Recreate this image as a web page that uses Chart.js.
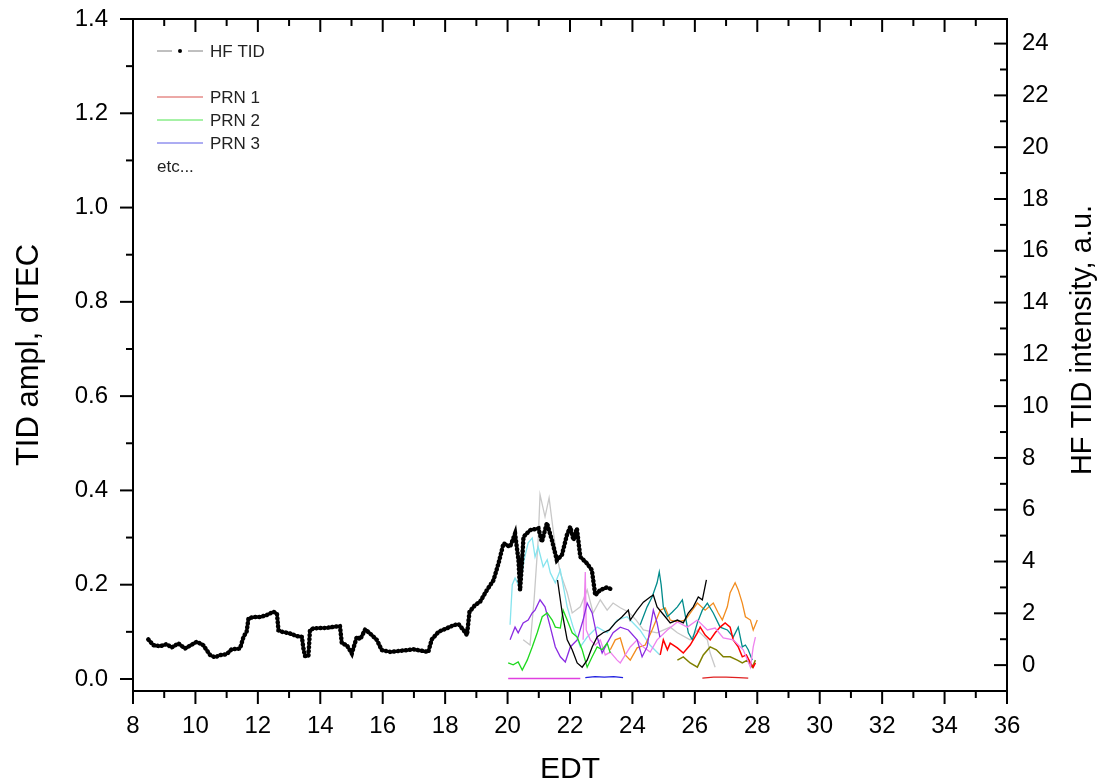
<!DOCTYPE html>
<html>
<head>
<meta charset="utf-8">
<script src="https://cdn.jsdelivr.net/npm/chart.js@4.4.0/dist/chart.umd.min.js"></script>
<style>
  html, body { margin: 0; padding: 0; background: #fff; }
  #wrap { width: 1099px; height: 784px; }
</style>
</head>
<body>
<div id="wrap"><canvas id="c" width="1099" height="784"></canvas></div>
<script>
// Axes
const xTicks = [8, 10, 12, 14, 16, 18, 20, 22, 24, 26, 28, 30, 32, 34, 36];
const leftTicks = [0, 0.2, 0.4, 0.6, 0.8, 1.0, 1.2, 1.4];
const rightTicks = [0, 2, 4, 6, 8, 10, 12, 14, 16, 18, 20, 22, 24];

// HF TID (axe de droite, u.a.)
const hfT = [8.49, 8.65, 8.87, 9.08, 9.24, 9.45, 9.67, 10.04, 10.25, 10.47, 10.63, 10.79, 11.0, 11.16, 11.43, 11.54, 11.64, 11.70, 11.86, 12.07, 12.28, 12.50, 12.61, 12.66, 12.77, 13.03, 13.25, 13.41, 13.46, 13.51, 13.62, 13.67, 13.78, 14.21, 14.63, 14.69, 14.85, 15.01, 15.17, 15.28, 15.44, 15.65, 15.81, 15.97, 16.24, 16.56, 16.98, 17.46, 17.57, 17.79, 18.05, 18.27, 18.43, 18.59, 18.70, 18.78, 18.96, 19.12, 19.34, 19.55, 19.71, 19.87, 20.08, 20.24, 20.35, 20.40, 20.46, 20.51, 20.72, 20.99, 21.10, 21.26, 21.42, 21.58, 21.74, 21.90, 22.01, 22.11, 22.22, 22.33, 22.54, 22.70, 22.81, 22.97, 23.18, 23.39];
const hfV = [0.99, 0.77, 0.73, 0.81, 0.68, 0.84, 0.64, 0.90, 0.77, 0.39, 0.30, 0.39, 0.42, 0.61, 0.64, 1.09, 1.29, 1.80, 1.86, 1.86, 1.93, 2.06, 2.00, 1.35, 1.29, 1.22, 1.12, 1.09, 0.64, 0.35, 0.35, 1.35, 1.42, 1.44, 1.51, 0.84, 0.77, 0.45, 1.09, 1.00, 1.38, 1.16, 0.97, 0.58, 0.51, 0.55, 0.61, 0.51, 0.99, 1.29, 1.42, 1.54, 1.58, 1.35, 1.16, 2.06, 2.32, 2.45, 2.90, 3.28, 3.93, 4.70, 4.57, 5.08, 4.05, 2.90, 3.93, 4.95, 5.21, 5.28, 4.76, 5.49, 4.83, 4.05, 4.25, 5.02, 5.34, 4.83, 5.28, 4.18, 3.93, 3.67, 2.70, 2.90, 3.00, 2.90];

// PRN (axe de gauche, dTEC)
const grayT = [20.50, 20.72, 20.85, 20.98, 21.04, 21.20, 21.33, 21.53, 21.69, 21.91, 22.07, 22.33, 22.55, 22.74, 22.97, 23.19, 23.38, 23.61, 23.87, 24.12, 24.35, 24.79, 25.21, 25.44, 25.85, 26.08, 26.40, 26.49, 26.65];
const grayV = [0.083, 0.072, 0.168, 0.295, 0.391, 0.344, 0.384, 0.280, 0.225, 0.183, 0.140, 0.153, 0.189, 0.140, 0.168, 0.146, 0.161, 0.151, 0.142, 0.125, 0.104, 0.098, 0.110, 0.098, 0.083, 0.104, 0.083, 0.055, 0.025];

const cyanT = [20.08, 20.15, 20.24, 20.40, 20.53, 20.66, 20.79, 20.88, 20.98, 21.14, 21.27, 21.37, 21.53, 21.69, 21.91, 22.10, 22.33, 22.55, 22.87, 23.19, 23.51, 23.83, 24.24, 24.56, 24.88];
const cyanV = [0.115, 0.200, 0.214, 0.193, 0.253, 0.289, 0.299, 0.259, 0.280, 0.238, 0.253, 0.225, 0.204, 0.231, 0.153, 0.110, 0.068, 0.089, 0.110, 0.098, 0.125, 0.132, 0.104, 0.072, 0.051];

const purpleT = [20.08, 20.24, 20.34, 20.50, 20.66, 20.79, 20.88, 21.04, 21.20, 21.37, 21.53, 21.69, 21.85, 22.01, 22.23, 22.42, 22.55, 22.71, 22.87, 23.03, 23.19, 23.38, 23.61, 23.87, 24.15, 24.31, 24.47, 24.57, 24.67, 24.79, 24.88];
const purpleV = [0.083, 0.110, 0.098, 0.119, 0.125, 0.140, 0.146, 0.168, 0.153, 0.110, 0.068, 0.047, 0.036, 0.068, 0.083, 0.125, 0.161, 0.140, 0.089, 0.055, 0.076, 0.098, 0.110, 0.104, 0.083, 0.047, 0.068, 0.110, 0.146, 0.119, 0.089];

const greenT = [20.02, 20.18, 20.34, 20.47, 20.63, 20.79, 20.95, 21.11, 21.27, 21.43, 21.53, 21.69, 21.78, 21.91, 22.07, 22.23, 22.39, 22.55, 22.71, 22.87, 23.03, 23.19, 23.29];
const greenV = [0.034, 0.030, 0.036, 0.019, 0.040, 0.068, 0.098, 0.132, 0.140, 0.125, 0.110, 0.108, 0.146, 0.125, 0.098, 0.089, 0.062, 0.025, 0.047, 0.068, 0.062, 0.076, 0.055];

const blackT = [21.60, 21.75, 21.91, 22.07, 22.23, 22.39, 22.55, 22.71, 22.87, 23.06, 23.26, 23.45, 23.67, 23.87, 23.93, 24.15, 24.35, 24.57, 24.67, 24.79, 25.05, 25.21, 25.44, 25.63, 25.79, 25.95, 26.11, 26.24, 26.37];
const blackV = [0.210, 0.140, 0.083, 0.062, 0.034, 0.025, 0.040, 0.068, 0.089, 0.098, 0.104, 0.119, 0.132, 0.146, 0.125, 0.146, 0.163, 0.174, 0.178, 0.153, 0.132, 0.119, 0.125, 0.119, 0.140, 0.153, 0.174, 0.168, 0.210];

const violetT = [22.42, 22.49, 22.52, 22.65, 22.81, 22.97, 23.13, 23.29, 23.51, 23.61, 23.93, 24.15, 24.35, 24.57, 24.79, 25.12, 25.44, 25.76, 26.08, 26.40, 26.65, 26.91, 27.23, 27.55, 27.78, 27.87, 27.94];
const violetV = [0.083, 0.227, 0.104, 0.083, 0.072, 0.083, 0.051, 0.057, 0.040, 0.034, 0.068, 0.083, 0.068, 0.057, 0.083, 0.104, 0.121, 0.110, 0.125, 0.104, 0.108, 0.087, 0.083, 0.062, 0.025, 0.068, 0.089];

const orangeT = [23.29, 23.45, 23.61, 23.77, 23.93, 24.15, 24.41, 24.63, 24.89, 25.05, 25.21, 25.44, 25.69, 25.92, 26.08, 26.33, 26.59, 26.75, 26.88, 27.04, 27.13, 27.29, 27.39, 27.52, 27.62, 27.78, 27.87, 28.0];
const orangeV = [0.062, 0.083, 0.087, 0.051, 0.040, 0.066, 0.072, 0.104, 0.146, 0.151, 0.125, 0.121, 0.125, 0.146, 0.161, 0.146, 0.161, 0.140, 0.125, 0.153, 0.183, 0.204, 0.189, 0.161, 0.132, 0.125, 0.104, 0.125];

const tealT = [24.25, 24.47, 24.63, 24.79, 24.86, 24.92, 24.99, 25.12, 25.28, 25.44, 25.60, 25.69, 25.79, 25.92, 26.08, 26.24, 26.40, 26.59, 26.81, 27.04, 27.23, 27.39, 27.52, 27.62, 27.71, 27.84];
const tealV = [0.115, 0.153, 0.174, 0.204, 0.227, 0.200, 0.153, 0.132, 0.142, 0.153, 0.168, 0.136, 0.098, 0.083, 0.119, 0.146, 0.161, 0.140, 0.110, 0.104, 0.089, 0.110, 0.068, 0.072, 0.062, 0.040];

const redT = [24.89, 24.99, 25.12, 25.21, 25.44, 25.63, 25.85, 26.08, 26.17, 26.33, 26.49, 26.65, 26.81, 26.97, 27.13, 27.23, 27.39, 27.52, 27.65, 27.78, 27.87, 27.94];
const redV = [0.051, 0.083, 0.062, 0.076, 0.066, 0.055, 0.072, 0.098, 0.110, 0.093, 0.083, 0.098, 0.110, 0.119, 0.110, 0.083, 0.068, 0.047, 0.051, 0.034, 0.025, 0.034];

const oliveT = [25.44, 25.63, 25.85, 26.08, 26.27, 26.49, 26.69, 26.91, 27.13, 27.36, 27.52, 27.68, 27.84, 27.94];
const oliveV = [0.040, 0.047, 0.034, 0.025, 0.051, 0.068, 0.062, 0.047, 0.047, 0.040, 0.034, 0.040, 0.025, 0.040];

// Traces quasi nulles
const zeroMagT = [20.02, 20.50, 21.00, 21.50, 22.00, 22.33];
const zeroMagV = [0.001, 0.001, 0.001, 0.001, 0.001, 0.001];
const zeroBlueT = [22.49, 22.80, 23.10, 23.40, 23.70];
const zeroBlueV = [0.003, 0.005, 0.004, 0.005, 0.003];
const zeroRedT = [26.24, 26.60, 27.00, 27.40, 27.71];
const zeroRedV = [0.002, 0.004, 0.004, 0.003, 0.002];

// Légende
const legendLabels = ['PRN 1', 'PRN 2', 'PRN 3'];
const legendColors = ['#d9534f', '#4ee44e', '#5a5ae6'];

const FONT = '"Liberation Sans", Arial, sans-serif';

function pts(ts, vs) {
    return ts.map((t, i) => ({ x: t, y: vs[i] }));
}

function prn(ts, vs, color, width) {
    return {
        data: pts(ts, vs),
        yAxisID: 'y',
        borderColor: color,
        borderWidth: width || 1.2,
        pointRadius: 0,
        tension: 0,
        fill: false,
    };
}

// pas de marge automatique autour des échelles
function noPad(s) {
    s.paddingTop = 0;
    s.paddingBottom = 0;
    s.paddingLeft = 0;
    s.paddingRight = 0;
}

// Cadre, graduations, légende et titre de droite
const framePlugin = {
    id: 'frame',
    afterDraw(chart) {
        const { ctx, chartArea: a, scales } = chart;
        ctx.save();
        ctx.strokeStyle = '#000';
        ctx.lineWidth = 2;
        const seg = (x1, y1, x2, y2) => {
            ctx.beginPath();
            ctx.moveTo(x1, y1);
            ctx.lineTo(x2, y2);
            ctx.stroke();
        };
        // majeur = 13 px, mineur (milieu) = 7 px
        const withMinor = arr => {
            const out = [];
            arr.forEach((v, i) => {
                out.push([v, 13]);
                if (i < arr.length - 1) out.push([(v + arr[i + 1]) / 2, 7]);
            });
            return out;
        };
        withMinor(xTicks).forEach(([v, len]) => {
            const px = scales.x.getPixelForValue(v);
            seg(px, a.bottom, px, a.bottom + len);
            seg(px, a.top, px, a.top + len);
        });
        withMinor(leftTicks).forEach(([v, len]) => {
            const py = scales.y.getPixelForValue(v);
            seg(a.left - len, py, a.left, py);
        });
        withMinor(rightTicks).forEach(([v, len]) => {
            const py = scales.y1.getPixelForValue(v);
            seg(a.right - len, py, a.right, py);
        });
        ctx.strokeRect(a.left, a.top, a.right - a.left, a.bottom - a.top);

        // légende
        ctx.lineWidth = 1;
        ctx.font = '17px ' + FONT;
        ctx.textBaseline = 'middle';
        ctx.textAlign = 'left';
        ctx.strokeStyle = '#808080';
        seg(157, 51, 172, 51);
        seg(188, 51, 203, 51);
        ctx.fillStyle = '#000';
        ctx.beginPath();
        ctx.arc(180, 51, 2, 0, 2 * Math.PI);
        ctx.fill();
        ctx.fillStyle = '#222';
        ctx.fillText('HF TID', 210, 52);
        legendLabels.forEach((lbl, i) => {
            const y = 97 + i * 23;
            ctx.strokeStyle = legendColors[i];
            seg(157, y, 203, y);
            ctx.fillText(lbl, 210, y + 1);
        });
        ctx.fillText('etc...', 157, 167);

        // titre axe de droite (lu de bas en haut)
        ctx.font = '29px ' + FONT;
        ctx.fillStyle = '#000';
        ctx.textAlign = 'center';
        ctx.translate(1083, 340);
        ctx.rotate(-Math.PI / 2);
        ctx.fillText('HF TID intensity, a.u.', 0, 0);
        ctx.restore();
    }
};

const tickFont = { family: FONT, size: 24 };

new Chart(document.getElementById('c'), {
    type: 'line',
    data: {
        datasets: [
            {
                data: pts(hfT, hfV),
                yAxisID: 'y1',
                borderColor: '#000',
                borderWidth: 4.5,
                borderDash: [0.5, 3.5],
                borderCapStyle: 'round',
                pointRadius: 0,
                fill: false,
            },
            prn(blackT, blackV, '#000000', 1.3),
            prn(greenT, greenV, '#1ed81e', 1.3),
            prn(purpleT, purpleV, '#8a2be2', 1.3),
            prn(violetT, violetV, '#ee82ee', 1.3),
            prn(redT, redV, '#ff0000', 1.5),
            prn(oliveT, oliveV, '#808000', 1.5),
            prn(tealT, tealV, '#008b8b', 1.3),
            prn(orangeT, orangeV, '#f28c1e', 1.3),
            prn(cyanT, cyanV, '#86e4ee', 1.3),
            prn(grayT, grayV, '#c8c8c8', 1.3),
            prn(zeroMagT, zeroMagV, '#e040e0', 1.3),
            prn(zeroBlueT, zeroBlueV, '#2020e0', 1.3),
            prn(zeroRedT, zeroRedV, '#e02020', 1.3),
        ],
    },
    options: {
        responsive: false,
        devicePixelRatio: 1,
        animation: false,
        layout: { padding: { top: 19, left: 0, right: 0, bottom: 0 } },
        plugins: { legend: { display: false }, tooltip: { enabled: false } },
        scales: {
            x: {
                type: 'linear',
                position: 'bottom',
                min: 8,
                max: 36,
                afterBuildTicks: s => { s.ticks = xTicks.map(v => ({ value: v })); },
                afterFit: s => { s.height = 93; noPad(s); },
                grid: { display: false, drawTicks: false },
                border: { display: false },
                ticks: { font: tickFont, color: '#000', padding: 21, maxRotation: 0, autoSkip: false },
                title: { display: true, text: 'EDT', font: { family: FONT, size: 30 }, color: '#000', padding: { top: 0, bottom: -4 } },
            },
            y: {
                type: 'linear',
                position: 'left',
                min: -0.0255,
                max: 1.4,
                afterBuildTicks: s => { s.ticks = leftTicks.map(v => ({ value: v })); },
                afterFit: s => { s.width = 133; noPad(s); },
                grid: { display: false, drawTicks: false },
                border: { display: false },
                ticks: { font: tickFont, color: '#000', padding: 25, callback: v => v.toFixed(1) },
                title: { display: true, text: 'TID ampl, dTEC', font: { family: FONT, size: 31 }, color: '#000', padding: { top: 11, bottom: 0 } },
            },
            y1: {
                type: 'linear',
                position: 'right',
                min: -1,
                max: 24.95,
                afterBuildTicks: s => { s.ticks = rightTicks.map(v => ({ value: v })); },
                afterFit: s => { s.width = 92; noPad(s); },
                grid: { display: false, drawTicks: false },
                border: { display: false },
                ticks: { font: tickFont, color: '#000', padding: 15 },
            },
        },
    },
    plugins: [framePlugin],
});
</script>
</body>
</html>
